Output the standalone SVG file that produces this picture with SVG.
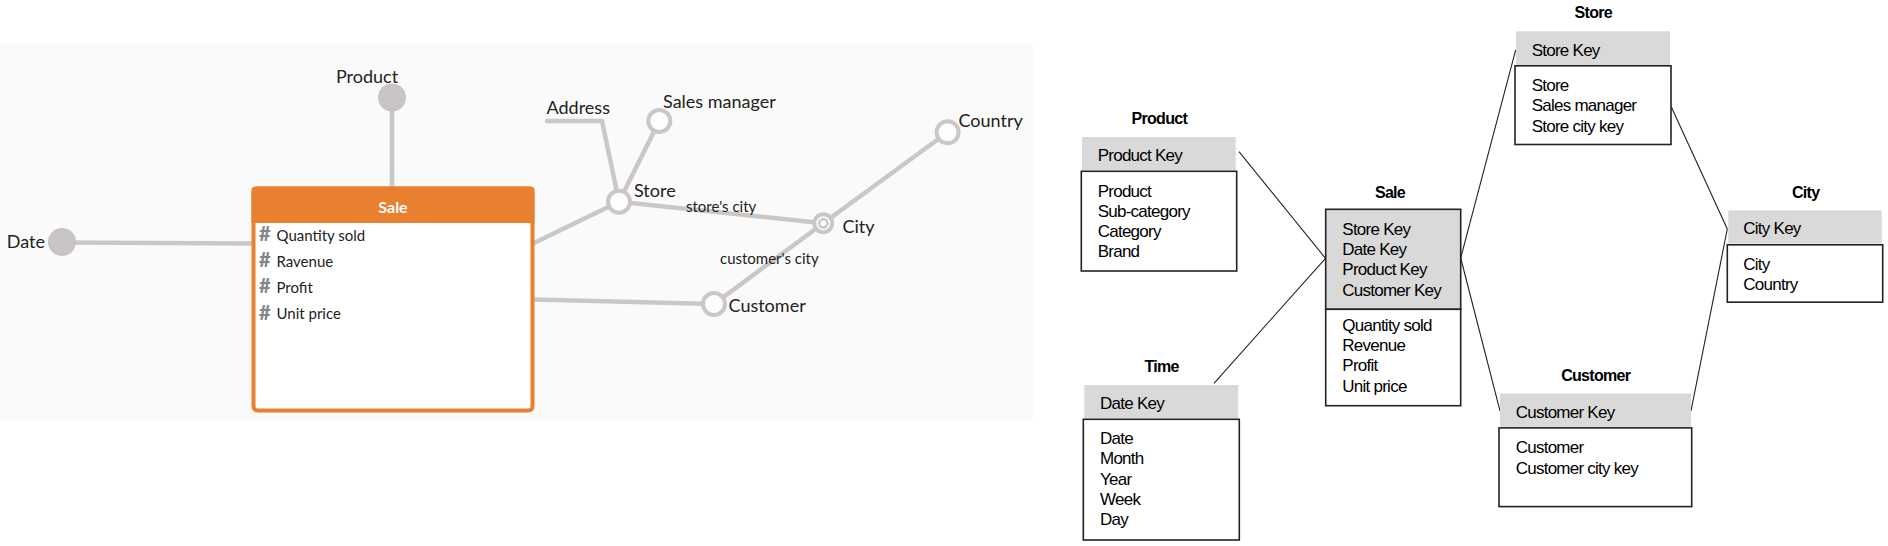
<svg xmlns="http://www.w3.org/2000/svg" width="1888" height="546" viewBox="0 0 1888 546">
<style>
.lk{stroke:#ccc7c7;stroke-width:4.5;fill:none;stroke-linecap:round;stroke-linejoin:round}
.hn{fill:#fdfdfd;stroke:#ccc7c7;stroke-width:4}
.nl{font-family:Lato,"Open Sans",sans-serif;font-size:18px;fill:#222}
.el{font-family:Lato,"Open Sans",sans-serif;font-size:15px;fill:#222}
.fld{font-family:Lato,"Open Sans",sans-serif;font-size:15px;fill:#222}
.hash{font-family:Lato,sans-serif;font-size:20px;font-weight:900;fill:#8a8585}
.cn{stroke:#222;stroke-width:1.1;fill:none}
.tt{font-family:"Liberation Sans",Arial,sans-serif;font-size:16px;font-weight:bold;fill:#000;letter-spacing:-0.7px;text-anchor:middle}
.tx{font-family:"Liberation Sans",Arial,sans-serif;font-size:17px;fill:#000;letter-spacing:-0.75px}
.kh{fill:#d9d9d9}
.bd{fill:#fff;stroke:#222;stroke-width:1.6}
</style>
<rect x="0" y="0" width="1888" height="546" fill="#fff"/>
<rect x="0" y="44" width="1033" height="376" fill="#fafafa"/>

<g id="connectors-left">
<line class="lk" x1="62" y1="242.5" x2="252" y2="243.5"/>
<line class="lk" x1="392" y1="98" x2="392" y2="187"/>
<line class="lk" x1="534" y1="243" x2="619" y2="201.7"/>
<line class="lk" x1="534" y1="299.5" x2="714" y2="304"/>
<polyline class="lk" points="547,121 602,121 619,201.7"/>
<line class="lk" x1="619" y1="201.7" x2="659.3" y2="121"/>
<line class="lk" x1="619" y1="201.7" x2="823.3" y2="223.3"/>
<line class="lk" x1="823.3" y1="223.3" x2="947.6" y2="132.3"/>
<line class="lk" x1="714" y1="304" x2="823.3" y2="223.3"/>
<text class="el" x="686" y="212">store's city</text>
<text class="el" x="720" y="264">customer's city</text>
</g>

<g id="n-date">
<circle cx="62" cy="242" r="14" fill="#c9c4c4"/>
<text class="nl" x="45" y="248" text-anchor="end">Date</text>
</g>
<g id="n-product">
<circle cx="392" cy="97.5" r="14" fill="#c9c4c4"/>
<text class="nl" x="367" y="83" text-anchor="middle">Product</text>
</g>
<g id="n-sale">
<rect x="253.5" y="188.5" width="279" height="222" rx="4" fill="#fff" stroke="#e98030" stroke-width="4"/>
<path d="M251.5,223 V190.5 a4,4 0 0 1 4,-4 H530.5 a4,4 0 0 1 4,4 V223 Z" fill="#e98030"/>
<text x="393" y="212.5" text-anchor="middle" font-family="Lato,sans-serif" font-size="16" font-weight="bold" fill="#fff">Sale</text>
<text class="hash" x="259" y="241">#</text><text class="fld" x="276.5" y="240.5">Quantity sold</text>
<text class="hash" x="259" y="267">#</text><text class="fld" x="276.5" y="266.5">Ravenue</text>
<text class="hash" x="259" y="293">#</text><text class="fld" x="276.5" y="292.5">Profit</text>
<text class="hash" x="259" y="319.5">#</text><text class="fld" x="276.5" y="319">Unit price</text>
</g>
<g id="n-address">
<text class="nl" x="546.5" y="114">Address</text>
</g>
<g id="n-store">
<circle class="hn" cx="619" cy="201.7" r="11"/>
<text class="nl" x="634" y="197">Store</text>
</g>
<g id="n-salesmanager">
<circle class="hn" cx="659.3" cy="121" r="11"/>
<text class="nl" x="663" y="108">Sales manager</text>
</g>
<g id="n-city">
<circle class="hn" cx="823.3" cy="223.3" r="9"/>
<circle cx="823.3" cy="223.3" r="4.2" fill="#fdfdfd" stroke="#ccc7c7" stroke-width="2.5"/>
<text class="nl" x="842.5" y="233">City</text>
</g>
<g id="n-country">
<circle class="hn" cx="947.6" cy="132.3" r="11"/>
<text class="nl" x="958.5" y="126.5">Country</text>
</g>
<g id="n-customer">
<circle class="hn" cx="714" cy="304" r="11"/>
<text class="nl" x="728.5" y="311.5">Customer</text>
</g>

<g id="connectors-right">
<line class="cn" x1="1239" y1="151.7" x2="1325.5" y2="258.3"/>
<line class="cn" x1="1214" y1="383.3" x2="1325.5" y2="258.3"/>
<line class="cn" x1="1460.7" y1="258" x2="1515.7" y2="49.8"/>
<line class="cn" x1="1460.7" y1="258" x2="1500" y2="410.9"/>
<line class="cn" x1="1671" y1="106.2" x2="1727.3" y2="229"/>
<line class="cn" x1="1727.3" y1="229" x2="1691" y2="410.9"/>
</g>

<g id="t-product">
<text class="tt" x="1159.3" y="124">Product</text>
<rect class="kh" x="1082" y="137" width="153.7" height="33.3"/>
<text class="tx" x="1097.7" y="161">Product Key</text>
<rect class="bd" x="1081.3" y="171.3" width="155.4" height="99.7"/>
<text class="tx" x="1097.7" y="196.7">Product</text>
<text class="tx" x="1097.7" y="216.7">Sub-category</text>
<text class="tx" x="1097.7" y="237.2">Category</text>
<text class="tx" x="1097.7" y="257.3">Brand</text>
</g>
<g id="t-time">
<text class="tt" x="1161.7" y="371.7">Time</text>
<rect class="kh" x="1084.3" y="385" width="154" height="33.3"/>
<text class="tx" x="1100" y="409">Date Key</text>
<rect class="bd" x="1083.3" y="419.3" width="156" height="120.7"/>
<text class="tx" x="1100" y="444">Date</text>
<text class="tx" x="1100" y="464.3">Month</text>
<text class="tx" x="1100" y="484.6">Year</text>
<text class="tx" x="1100" y="504.9">Week</text>
<text class="tx" x="1100" y="525.2">Day</text>
</g>
<g id="t-sale">
<text class="tt" x="1390" y="198.3">Sale</text>
<rect x="1325.7" y="209.3" width="135" height="100" fill="#d9d9d9" stroke="#222" stroke-width="1.6"/>
<text class="tx" x="1342.3" y="235">Store Key</text>
<text class="tx" x="1342.3" y="255.2">Date Key</text>
<text class="tx" x="1342.3" y="275.4">Product Key</text>
<text class="tx" x="1342.3" y="295.6">Customer Key</text>
<rect class="bd" x="1325.7" y="309.3" width="135" height="96.4"/>
<text class="tx" x="1342.3" y="331">Quantity sold</text>
<text class="tx" x="1342.3" y="351.2">Revenue</text>
<text class="tx" x="1342.3" y="371.4">Profit</text>
<text class="tx" x="1342.3" y="391.6">Unit price</text>
</g>
<g id="t-store">
<text class="tt" x="1593.3" y="18.1">Store</text>
<rect class="kh" x="1516" y="31.3" width="154" height="33.8"/>
<text class="tx" x="1531.7" y="55.7">Store Key</text>
<rect class="bd" x="1515" y="65.8" width="156" height="78.7"/>
<text class="tx" x="1531.7" y="91.2">Store</text>
<text class="tx" x="1531.7" y="111.4">Sales manager</text>
<text class="tx" x="1531.7" y="131.6">Store city key</text>
</g>
<g id="t-city">
<text class="tt" x="1805.7" y="197.8">City</text>
<rect class="kh" x="1728.3" y="210.3" width="153.4" height="33.4"/>
<text class="tx" x="1743.3" y="234">City Key</text>
<rect class="bd" x="1727.3" y="244.8" width="155.4" height="57.4"/>
<text class="tx" x="1743.3" y="269.8">City</text>
<text class="tx" x="1743.3" y="290">Country</text>
</g>
<g id="t-customer">
<text class="tt" x="1595.7" y="380.6">Customer</text>
<rect class="kh" x="1500" y="393.5" width="191" height="33.4"/>
<text class="tx" x="1515.7" y="417.8">Customer Key</text>
<rect class="bd" x="1499" y="427.9" width="192.7" height="78.7"/>
<text class="tx" x="1515.7" y="452.6">Customer</text>
<text class="tx" x="1515.7" y="473.5">Customer city key</text>
</g>
</svg>
